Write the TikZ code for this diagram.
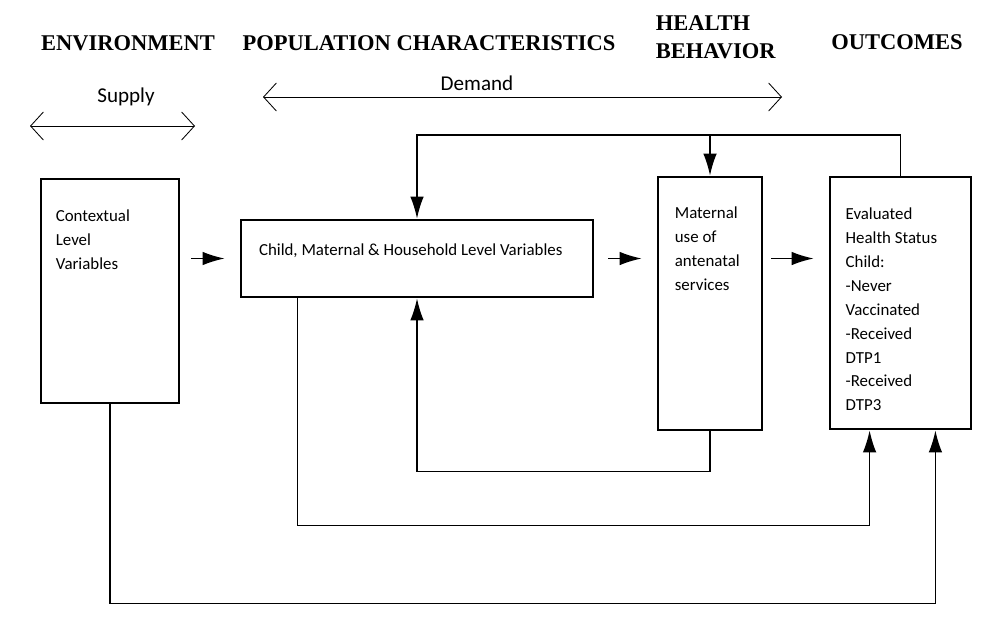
\documentclass[tikz,border=0pt]{standalone}
\usepackage{fontspec}
\setmainfont{Liberation Serif}
\newfontfamily\bodyfont{Carlito}
\usetikzlibrary{arrows.meta,positioning,calc}
\tikzset{box/.style={draw=black,line width=2pt,inner sep=0pt},head/.style={font=\fontsize{16}{20}\selectfont\bfseries,align=left},txt/.style={font=\bodyfont\fontsize{12}{17}\selectfont,align=left,inner sep=0pt,anchor=north west},spantxt/.style={font=\bodyfont\fontsize{15}{17}\selectfont},arrow/.style={-{Latex[length=5.5mm,width=3.4mm]},draw=black,line width=1pt},span/.style={{Straight Barb[length=3.2mm,width=7mm]}-{Straight Barb[length=3.2mm,width=7mm]},draw=black,line width=0.6pt}}

\begin{document}
\begin{tikzpicture}[x=0.025cm,y=-0.025cm]
\useasboundingbox[fill=white] (0,0) rectangle (986,618);
\node[head] (env) at (128,43) {ENVIRONMENT};
\node[head] (pop) at (429,43) {POPULATION CHARACTERISTICS};
\node[head,anchor=west] (beh) at (651,37) {HEALTH\\BEHAVIOR};
\node[head] (outh) at (897,42) {OUTCOMES};
\node[spantxt] (supply) at (126,97) {Supply};
\node[spantxt] (demand) at (477,83) {Demand};
\coordinate (supL) at (30,126);\coordinate (supR) at (195,126);
\coordinate (demL) at (263,97);\coordinate (demR) at (782,97);
\draw[span] (supL) -- (supR);\draw[span] (demL) -- (demR);
\node[box,minimum width=3.45cm,minimum height=5.6cm] (ctx) at (110,291) {};
\node[box,minimum width=8.8cm,minimum height=1.925cm] (child) at (417,258.5) {};
\node[box,minimum width=2.6cm,minimum height=6.325cm] (mat) at (710,303.5) {};
\node[box,minimum width=3.525cm,minimum height=6.3cm] (out) at (900.5,303) {};
\node[txt,below right=0.8cm and 0.4cm of ctx.north west] (ctxtext) {Contextual\\Level\\Variables};
\node[txt,anchor=west] (childtext) at ([xshift=0.48cm,yshift=0.2cm]child.west) {Child, Maternal \& Household Level Variables};
\node[txt,below right=0.78cm and 0.45cm of mat.north west] (mattext) {Maternal\\use of\\antenatal\\services};
\node[txt,below right=0.8cm and 0.42cm of out.north west] (outtext) {Evaluated\\Health Status\\Child:\\-Never\\Vaccinated\\-Received\\DTP1\\-Received\\DTP3};
\coordinate (topline) at (660,135);
\draw[arrow] ([xshift=0.275cm]ctx.east |- child.west) -- ([xshift=-0.375cm]child.west);
\draw[arrow] ([xshift=0.35cm]child.east) -- ([xshift=-0.375cm]mat.west |- child.east);
\draw[arrow] ([xshift=0.2cm]mat.east |- child.east) -- ([xshift=-0.375cm]out.west |- child.east);
\draw[arrow] (out.north) |- (topline) -| (child.north);
\draw[arrow] (mat.north |- topline) -- (mat.north);
\draw[arrow] (mat.south) -- ++(0,40) -| (child.south);
\draw[arrow] ([xshift=1.45cm]child.south west) -- ++(0,227) -| ([xshift=1.025cm]out.south west);
\draw[arrow] (ctx.south) -- ++(0,199) -| ([xshift=-0.925cm]out.south east);
\end{tikzpicture}
\end{document}
